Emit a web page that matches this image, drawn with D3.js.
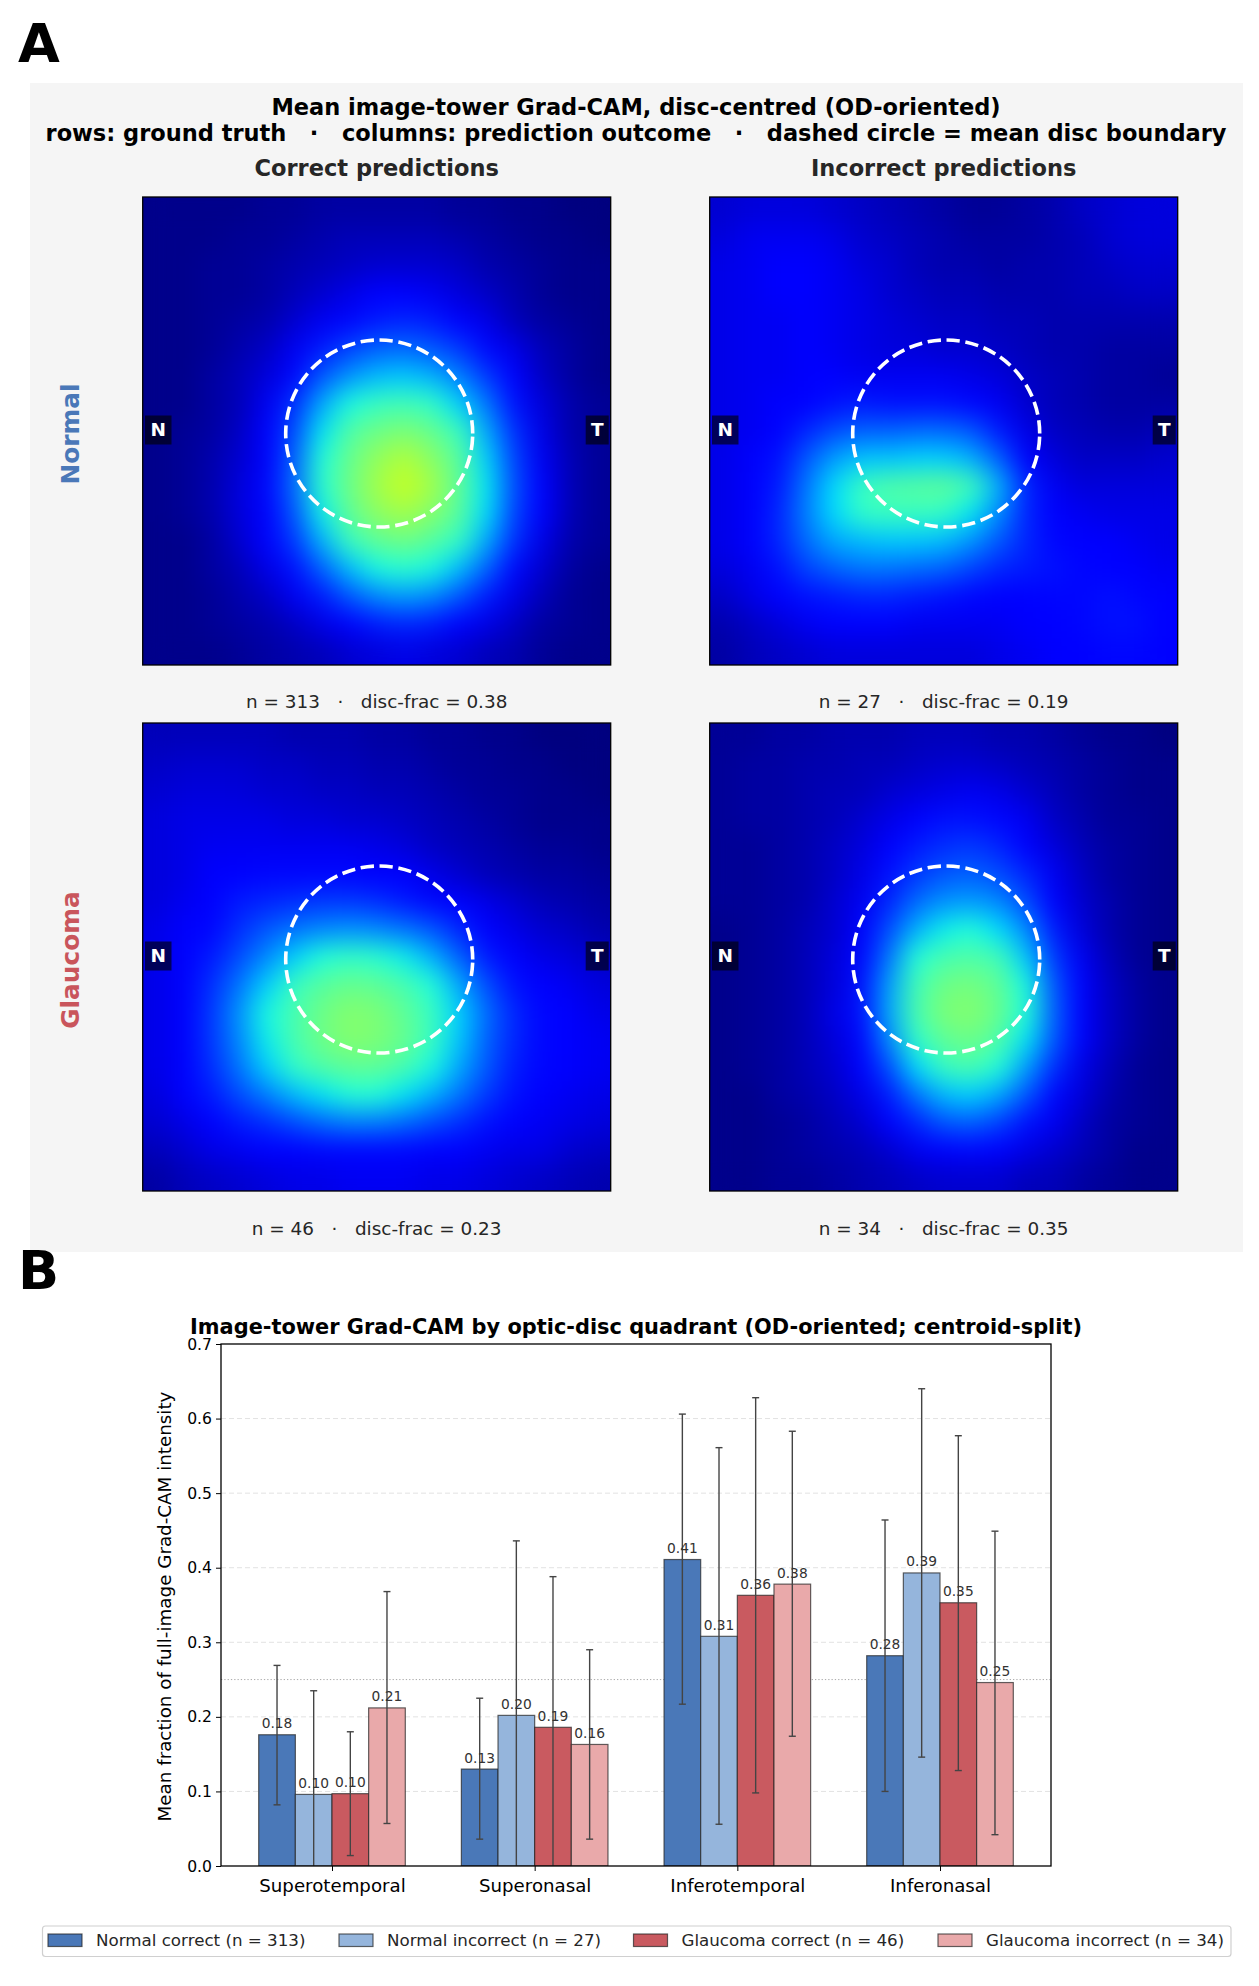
<!DOCTYPE html>
<html lang="en">
<head>
<meta charset="utf-8">
<title>Grad-CAM figure</title>
<script src="https://d3js.org/d3.v7.min.js"></script>
<style>
  body { margin: 0; background: #fff; }
  text { font-family: "DejaVu Sans", sans-serif; white-space: pre; }
</style>
</head>
<body>
<div id="chart"></div>
<script>
// Panel A: heatmap values, 17 x 17 cells, top row first
const camNormalCorrect = [
  [.01,.01,.01,.01,.02,.02,.03,.03,.03,.03,.03,.02,.02,.01,.01,.00,.00],
  [.01,.01,.01,.02,.02,.03,.04,.05,.05,.05,.05,.04,.03,.02,.01,.01,.00],
  [.01,.01,.02,.02,.03,.04,.05,.06,.07,.07,.07,.06,.04,.03,.02,.01,.01],
  [.01,.01,.02,.02,.03,.05,.07,.09,.11,.11,.10,.08,.06,.04,.02,.01,.01],
  [.01,.01,.02,.03,.04,.07,.10,.13,.15,.16,.15,.12,.09,.05,.03,.02,.01],
  [.01,.01,.02,.04,.06,.10,.15,.19,.22,.23,.21,.18,.13,.09,.05,.03,.01],
  [.01,.01,.03,.05,.08,.13,.21,.27,.31,.32,.30,.25,.18,.11,.06,.03,.01],
  [.01,.01,.03,.05,.10,.17,.29,.37,.41,.42,.40,.33,.24,.14,.08,.04,.02],
  [.01,.02,.03,.06,.11,.20,.35,.44,.48,.50,.47,.41,.29,.17,.09,.04,.02],
  [.01,.02,.04,.07,.12,.22,.38,.47,.53,.57,.52,.45,.33,.19,.10,.05,.02],
  [.01,.02,.04,.08,.13,.23,.39,.48,.55,.60,.55,.46,.35,.20,.11,.05,.02],
  [.01,.02,.04,.08,.12,.21,.36,.46,.52,.55,.51,.45,.34,.19,.11,.05,.02],
  [.01,.01,.03,.07,.11,.18,.30,.41,.46,.48,.45,.40,.29,.17,.09,.04,.02],
  [.01,.01,.03,.05,.09,.14,.22,.31,.37,.39,.37,.31,.22,.13,.07,.03,.01],
  [.01,.01,.02,.04,.06,.10,.15,.21,.26,.28,.26,.21,.15,.09,.05,.02,.01],
  [.01,.01,.02,.03,.04,.06,.09,.12,.15,.16,.15,.12,.09,.06,.03,.02,.01],
  [.01,.01,.01,.02,.03,.04,.05,.07,.08,.09,.08,.07,.05,.04,.02,.01,.01]
];
const camNormalIncorrect = [
  [.07,.08,.08,.08,.07,.06,.05,.04,.03,.02,.02,.03,.04,.06,.07,.08,.08],
  [.08,.10,.10,.10,.09,.07,.06,.05,.04,.03,.03,.03,.04,.05,.07,.08,.08],
  [.09,.10,.11,.11,.10,.08,.07,.05,.04,.04,.03,.04,.04,.05,.06,.07,.07],
  [.09,.10,.11,.11,.10,.09,.07,.06,.05,.05,.04,.04,.04,.05,.05,.06,.06],
  [.09,.10,.10,.11,.10,.09,.08,.07,.06,.06,.05,.05,.04,.04,.04,.04,.04],
  [.09,.10,.10,.11,.10,.09,.08,.08,.07,.07,.06,.05,.04,.04,.03,.03,.03],
  [.09,.10,.10,.11,.11,.10,.10,.10,.10,.09,.08,.06,.05,.04,.03,.03,.02],
  [.09,.10,.11,.12,.14,.15,.14,.14,.14,.13,.10,.07,.05,.04,.03,.03,.03],
  [.09,.10,.12,.16,.20,.22,.22,.23,.23,.21,.15,.09,.06,.05,.04,.04,.05],
  [.09,.11,.14,.21,.28,.32,.32,.33,.33,.30,.22,.12,.08,.06,.06,.06,.07],
  [.09,.11,.15,.24,.34,.41,.44,.45,.46,.42,.30,.16,.10,.08,.08,.08,.08],
  [.09,.11,.16,.25,.34,.40,.41,.41,.40,.35,.26,.16,.12,.10,.09,.09,.09],
  [.09,.11,.16,.23,.29,.31,.32,.32,.31,.27,.21,.16,.13,.12,.11,.10,.09],
  [.08,.10,.14,.19,.22,.24,.24,.23,.22,.19,.16,.15,.14,.13,.12,.11,.10],
  [.06,.09,.11,.14,.15,.16,.16,.15,.14,.13,.12,.12,.13,.13,.14,.13,.11],
  [.04,.06,.08,.10,.11,.11,.11,.10,.10,.10,.10,.11,.12,.13,.14,.14,.12],
  [.03,.05,.06,.07,.08,.08,.08,.08,.08,.08,.09,.10,.11,.12,.13,.13,.11]
];
const camGlaucomaCorrect = [
  [.05,.05,.05,.05,.05,.04,.04,.04,.03,.03,.02,.02,.01,.01,.00,.00,.00],
  [.06,.07,.07,.07,.06,.06,.05,.05,.04,.04,.03,.02,.02,.01,.01,.00,.00],
  [.07,.08,.08,.08,.07,.07,.06,.06,.05,.05,.04,.03,.02,.02,.01,.01,.00],
  [.08,.09,.09,.09,.09,.08,.08,.07,.07,.06,.05,.04,.03,.02,.01,.01,.01],
  [.08,.09,.10,.10,.10,.10,.10,.10,.09,.08,.06,.05,.04,.03,.02,.02,.01],
  [.08,.09,.11,.12,.13,.13,.13,.13,.12,.11,.09,.07,.05,.04,.03,.03,.02],
  [.08,.10,.12,.15,.16,.17,.18,.18,.17,.15,.13,.11,.09,.07,.05,.04,.03],
  [.09,.11,.13,.17,.21,.24,.26,.27,.26,.24,.21,.16,.12,.09,.07,.06,.04],
  [.09,.11,.15,.20,.26,.33,.38,.40,.39,.36,.30,.22,.15,.11,.09,.08,.06],
  [.09,.12,.17,.24,.33,.41,.45,.47,.46,.43,.38,.29,.20,.14,.12,.10,.08],
  [.09,.12,.18,.27,.37,.43,.48,.51,.50,.46,.41,.33,.23,.16,.13,.11,.09],
  [.09,.12,.18,.26,.36,.43,.48,.51,.50,.47,.41,.32,.22,.16,.13,.11,.10],
  [.09,.12,.17,.24,.33,.40,.44,.46,.46,.43,.37,.29,.21,.15,.13,.11,.10],
  [.08,.11,.15,.20,.25,.31,.35,.38,.38,.35,.30,.24,.18,.14,.12,.10,.09],
  [.07,.09,.12,.15,.17,.20,.23,.25,.25,.23,.20,.17,.14,.12,.10,.09,.08],
  [.05,.07,.09,.10,.11,.12,.13,.13,.13,.13,.12,.11,.10,.09,.09,.07,.06],
  [.03,.05,.06,.07,.08,.09,.09,.10,.10,.10,.09,.09,.08,.07,.06,.05,.04]
];
const camGlaucomaIncorrect = [
  [.02,.02,.03,.03,.04,.04,.04,.05,.05,.05,.04,.04,.03,.02,.01,.01,.00],
  [.02,.03,.03,.04,.04,.05,.05,.06,.07,.07,.06,.05,.04,.03,.02,.01,.01],
  [.02,.03,.03,.04,.05,.05,.07,.08,.09,.10,.09,.07,.05,.03,.02,.01,.01],
  [.02,.03,.03,.04,.05,.07,.09,.12,.14,.14,.13,.10,.06,.04,.02,.02,.01],
  [.02,.02,.03,.04,.06,.08,.12,.15,.17,.18,.16,.12,.08,.05,.03,.02,.01],
  [.02,.02,.03,.04,.06,.09,.14,.18,.21,.22,.20,.16,.10,.06,.03,.02,.01],
  [.02,.02,.03,.04,.07,.10,.16,.23,.27,.28,.26,.20,.12,.07,.04,.02,.01],
  [.01,.02,.03,.05,.07,.11,.20,.30,.36,.38,.34,.26,.15,.08,.04,.02,.01],
  [.01,.02,.03,.05,.08,.13,.24,.38,.43,.44,.42,.32,.18,.10,.05,.02,.01],
  [.01,.02,.03,.05,.08,.14,.28,.42,.48,.49,.46,.37,.21,.11,.06,.03,.01],
  [.01,.02,.03,.05,.09,.14,.29,.43,.50,.51,.47,.38,.22,.12,.06,.03,.01],
  [.01,.02,.03,.05,.08,.13,.26,.40,.46,.48,.44,.35,.21,.11,.06,.03,.01],
  [.01,.02,.03,.05,.07,.11,.20,.34,.41,.43,.38,.28,.17,.09,.05,.02,.01],
  [.01,.01,.03,.04,.06,.09,.15,.24,.31,.33,.29,.21,.13,.08,.04,.02,.01],
  [.01,.01,.02,.03,.05,.07,.11,.16,.21,.22,.19,.14,.10,.06,.03,.02,.01],
  [.01,.01,.02,.03,.04,.05,.07,.10,.12,.13,.12,.09,.07,.05,.03,.01,.01],
  [.01,.01,.02,.02,.03,.04,.05,.06,.07,.07,.07,.05,.05,.03,.02,.01,.01]
];
const panelGrids = [camNormalCorrect, camNormalIncorrect, camGlaucomaCorrect, camGlaucomaIncorrect];
const panelCaptions = [
  "n = 313   ·   disc-frac = 0.38",
  "n = 27   ·   disc-frac = 0.19",
  "n = 46   ·   disc-frac = 0.23",
  "n = 34   ·   disc-frac = 0.35"
];
const rowTitles = ["Normal", "Glaucoma"];
const columnTitles = ["Correct predictions", "Incorrect predictions"];

// Panel B: bars
const quadrants = ["Superotemporal", "Superonasal", "Inferotemporal", "Inferonasal"];
const seriesNames = ["Normal correct (n = 313)", "Normal incorrect (n = 27)", "Glaucoma correct (n = 46)", "Glaucoma incorrect (n = 34)"];
const normalCorrect = [0.176, 0.130, 0.411, 0.282];
const normalIncorrect = [0.096, 0.202, 0.308, 0.393];
const glaucomaCorrect = [0.097, 0.186, 0.363, 0.353];
const glaucomaIncorrect = [0.212, 0.163, 0.378, 0.246];
const errLow = [
  [0.082, 0.036, 0.217, 0.100],
  [-0.043, -0.032, 0.056, 0.146],
  [0.014, -0.016, 0.098, 0.128],
  [0.057, 0.036, 0.174, 0.042]
];
const errHigh = [
  [0.269, 0.225, 0.606, 0.464],
  [0.235, 0.436, 0.561, 0.640],
  [0.180, 0.388, 0.628, 0.577],
  [0.368, 0.290, 0.583, 0.449]
];
const yTicks = [0, 0.1, 0.2, 0.3, 0.4, 0.5, 0.6, 0.7];
const chanceLevel = 0.25;

const allSeries = [normalCorrect, normalIncorrect, glaucomaCorrect, glaucomaIncorrect];
const seriesColors = ["#4a78b8", "#95b5dc", "#c95a60", "#e9a9aa"];

const svg = d3.select("#chart").append("svg")
  .attr("width", 1259)
  .attr("height", 1986)
  .style("display", "block");

const defs = svg.append("defs");

// blur smooths the cell edges, the alpha boost keeps the outer border opaque
const smooth = defs.append("filter")
  .attr("id", "smooth")
  .attr("x", "-10%").attr("y", "-10%")
  .attr("width", "120%").attr("height", "120%")
  .attr("color-interpolation-filters", "sRGB");
smooth.append("feGaussianBlur").attr("stdDeviation", 13);
smooth.append("feComponentTransfer").append("feFuncA")
  .attr("type", "linear").attr("slope", 60);

// matplotlib jet
const jet = d3.scaleLinear()
  .domain([0, 0.11, 0.125, 0.34, 0.35, 0.375, 0.64, 0.65, 0.66, 0.89, 0.91, 1])
  .range(["#00007f", "#0000ff", "#0000ff", "#00dbff", "#03e5f6", "#1effde", "#e4ff00", "#f5ff00", "#ffff00", "#ff1f00", "#ff0000", "#7f0000"])
  .clamp(true);

// ---------- panel A ----------
svg.append("rect").attr("x", 30).attr("y", 83).attr("width", 1213).attr("height", 1169)
  .attr("fill", "#f5f5f5");

// panel letters
svg.append("text").attr("x", 18).attr("y", 62)
  .attr("font-size", 54).attr("font-weight", "bold").text("A");
svg.append("text").attr("x", 18).attr("y", 1289)
  .attr("font-size", 54).attr("font-weight", "bold").text("B");

svg.append("text").attr("x", 636).attr("y", 115).attr("text-anchor", "middle")
  .attr("font-size", 22.5).attr("font-weight", "bold")
  .text("Mean image-tower Grad-CAM, disc-centred (OD-oriented)");
svg.append("text").attr("x", 636).attr("y", 141).attr("text-anchor", "middle")
  .attr("font-size", 22.5).attr("font-weight", "bold")
  .text("rows: ground truth   ·   columns: prediction outcome   ·   dashed circle = mean disc boundary");

const panelSize = 468;
const columnX = [142.7, 709.7];
const rowY = [197, 723];
const cellIndex = d3.range(17);
const discCentre = 236.5;
const discRadius = 93.5;

columnTitles.forEach(function(t, c) {
  svg.append("text").attr("x", columnX[c] + panelSize / 2).attr("y", 176)
    .attr("text-anchor", "middle").attr("font-size", 22.5).attr("font-weight", "bold")
    .attr("fill", "#262626").text(t);
});

const rowColors = ["#4a78b8", "#c9555c"];
rowTitles.forEach(function(t, r) {
  svg.append("text")
    .attr("transform", "translate(79," + (rowY[r] + 237) + ") rotate(-90)")
    .attr("text-anchor", "middle").attr("font-size", 24.8).attr("font-weight", "bold")
    .attr("fill", rowColors[r]).text(t);
});

panelGrids.forEach(function(grid, i) {
  let c = i % 2;
  let r = Math.floor(i / 2);
  let g = svg.append("g").attr("transform", "translate(" + columnX[c] + "," + rowY[r] + ")");

  let xCell = d3.scaleBand().domain(cellIndex).range([0, panelSize]);
  let yCell = d3.scaleBand().domain(cellIndex).range([0, panelSize]);

  defs.append("clipPath").attr("id", "panel" + i)
    .append("rect").attr("width", panelSize).attr("height", panelSize);

  let cells = [];
  grid.forEach(function(row, y) {
    row.forEach(function(v, x) { cells.push({x: x, y: y, v: v}); });
  });

  g.append("g").attr("clip-path", "url(#panel" + i + ")")
    .append("g").attr("filter", "url(#smooth)")
    .selectAll("rect").data(cells).join("rect")
    .attr("x", function(d) { return xCell(d.x); })
    .attr("y", function(d) { return yCell(d.y); })
    .attr("width", xCell.bandwidth() + 0.5)
    .attr("height", yCell.bandwidth() + 0.5)
    .attr("fill", function(d) { return jet(d.v); });

  // disc boundary, dash pattern starts at 3 o'clock going up
  let disc = d3.path();
  disc.arc(discCentre, discCentre, discRadius, 0, 2 * Math.PI, true);
  g.append("path").attr("d", disc.toString())
    .attr("fill", "none").attr("stroke", "#fff").attr("stroke-width", 3.6)
    .attr("stroke-dasharray", "13.3 5.7");

  // N / T badges
  [["N", 2.3, 26.5], ["T", 443, 23]].forEach(function(b) {
    g.append("rect").attr("x", b[1]).attr("y", 218.5).attr("width", b[2]).attr("height", 29)
      .attr("fill", "#000").attr("fill-opacity", 0.62);
    g.append("text").attr("x", b[1] + b[2] / 2).attr("y", 239)
      .attr("text-anchor", "middle").attr("font-size", 18.5).attr("font-weight", "bold")
      .attr("fill", "#fff").text(b[0]);
  });

  g.append("rect").attr("width", panelSize).attr("height", panelSize)
    .attr("fill", "none").attr("stroke", "#000").attr("stroke-width", 1.3);

  g.append("text").attr("x", panelSize / 2).attr("y", panelSize + (r == 0 ? 42.5 : 44))
    .attr("text-anchor", "middle").attr("font-size", 18.4).attr("fill", "#262626")
    .text(panelCaptions[i]);
});

// ---------- panel B ----------
const margin = {top: 1344, right: 208, bottom: 120, left: 221};
const innerWidth = 1259 - margin.left - margin.right;
const innerHeight = 1986 - margin.top - margin.bottom;

const plot = svg.append("g").attr("transform", "translate(" + margin.left + "," + margin.top + ")");

const yScale = d3.scaleLinear().domain([0, 0.7]).range([innerHeight, 0]);
const xScale = d3.scalePoint().domain(quadrants).range([111, 719]);
const barBand = d3.scaleBand().domain(d3.range(4)).range([-73.3, 73.3]);

svg.append("text").attr("x", 636).attr("y", 1334).attr("text-anchor", "middle")
  .attr("font-size", 20.9).attr("font-weight", "bold")
  .text("Image-tower Grad-CAM by optic-disc quadrant (OD-oriented; centroid-split)");

svg.append("text")
  .attr("transform", "translate(171," + (margin.top + innerHeight / 2 + 1.5) + ") rotate(-90)")
  .attr("text-anchor", "middle").attr("font-size", 18.3)
  .text("Mean fraction of full-image Grad-CAM intensity");

defs.append("clipPath").attr("id", "plotClip")
  .append("rect").attr("width", innerWidth).attr("height", innerHeight);

// grid
plot.selectAll(".grid").data(yTicks.slice(1, -1)).join("line")
  .attr("class", "grid")
  .attr("x1", 0).attr("x2", innerWidth)
  .attr("y1", function(d) { return yScale(d); })
  .attr("y2", function(d) { return yScale(d); })
  .attr("stroke", "#e2e2e2").attr("stroke-width", 1)
  .attr("stroke-dasharray", "5 3");

plot.append("line")
  .attr("x1", 0).attr("x2", innerWidth)
  .attr("y1", yScale(chanceLevel)).attr("y2", yScale(chanceLevel))
  .attr("stroke", "#aaa").attr("stroke-width", 1)
  .attr("stroke-dasharray", "1.3 2");

const clipped = plot.append("g").attr("clip-path", "url(#plotClip)");

allSeries.forEach(function(values, s) {
  let rows = values.map(function(v, q) {
    return {q: quadrants[q], v: v};
  });
  let xBar = function(d) { return xScale(d.q) + barBand(s); };

  clipped.selectAll(".bar" + s).data(rows).join("rect")
    .attr("class", "bar" + s)
    .attr("x", xBar)
    .attr("y", function(d) { return yScale(d.v); })
    .attr("width", barBand.bandwidth())
    .attr("height", function(d) { return innerHeight - yScale(d.v); })
    .attr("fill", seriesColors[s])
    .attr("stroke", "#222").attr("stroke-opacity", 0.7).attr("stroke-width", 1.2);
});

allSeries.forEach(function(values, s) {
  let rows = values.map(function(v, q) {
    return {q: quadrants[q], v: v, low: errLow[s][q], high: errHigh[s][q]};
  });
  let xMid = function(d) { return xScale(d.q) + barBand(s) + barBand.bandwidth() / 2; };

  clipped.selectAll(".err" + s).data(rows).join("line")
    .attr("class", "err" + s)
    .attr("x1", xMid).attr("x2", xMid)
    .attr("y1", function(d) { return yScale(d.low); })
    .attr("y2", function(d) { return yScale(d.high); })
    .attr("stroke", "#444").attr("stroke-width", 1.4);

  ["low", "high"].forEach(function(key) {
    clipped.selectAll(".cap" + key + s).data(rows).join("line")
      .attr("class", "cap" + key + s)
      .attr("x1", function(d) { return xMid(d) - 3.5; })
      .attr("x2", function(d) { return xMid(d) + 3.5; })
      .attr("y1", function(d) { return yScale(d[key]); })
      .attr("y2", function(d) { return yScale(d[key]); })
      .attr("stroke", "#444").attr("stroke-width", 1.4);
  });

  plot.selectAll(".val" + s).data(rows).join("text")
    .attr("class", "val" + s)
    .attr("x", xMid)
    .attr("y", function(d) { return yScale(d.v) - 6.5; })
    .attr("text-anchor", "middle").attr("font-size", 13.8).attr("fill", "#333")
    .text(function(d) { return d.v.toFixed(2); });
});

// axes
const yAxis = d3.axisLeft(yScale).tickValues(yTicks).tickFormat(d3.format(".1f")).tickSize(5).tickPadding(4);
const xAxis = d3.axisBottom(xScale).tickSize(5).tickPadding(8);

plot.append("g").call(yAxis)
  .call(function(g) { g.selectAll("text").attr("font-size", 15.6).attr("font-family", "DejaVu Sans").attr("fill", "#000"); })
  .call(function(g) { g.select(".domain").remove(); });
plot.append("g").attr("transform", "translate(0," + innerHeight + ")").call(xAxis)
  .call(function(g) { g.selectAll("text").attr("font-size", 18.2).attr("font-family", "DejaVu Sans").attr("fill", "#000"); })
  .call(function(g) { g.select(".domain").remove(); });

plot.append("rect").attr("width", innerWidth).attr("height", innerHeight)
  .attr("fill", "none").attr("stroke", "#000").attr("stroke-width", 1.3);

// legend
const legendPatchX = [48, 339, 633.5, 938];
const legend = svg.append("g");
legend.append("rect").attr("x", 42.5).attr("y", 1926).attr("width", 1188.5).attr("height", 30.5).attr("rx", 3)
  .attr("fill", "#fff").attr("stroke", "#d0d0d0").attr("stroke-width", 1.2);
seriesNames.forEach(function(name, s) {
  legend.append("rect").attr("x", legendPatchX[s]).attr("y", 1934).attr("width", 34).attr("height", 12.5)
    .attr("fill", seriesColors[s]).attr("stroke", "#222").attr("stroke-opacity", 0.7).attr("stroke-width", 1.2);
  legend.append("text").attr("x", legendPatchX[s] + 48).attr("y", 1946)
    .attr("font-size", 16.7).attr("fill", "#262626").text(name);
});
</script>
</body>
</html>
